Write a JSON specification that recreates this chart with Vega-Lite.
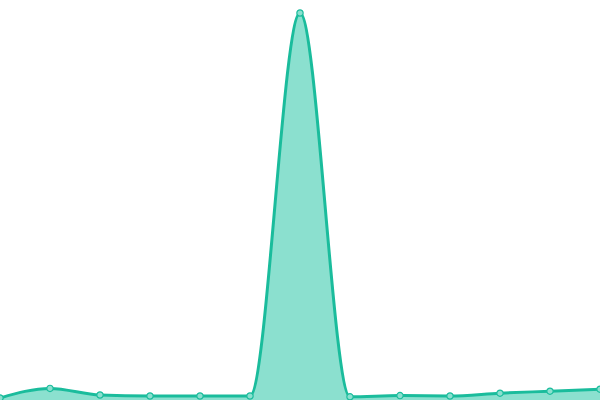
{
  "$schema": "https://vega.github.io/schema/vega-lite/v6.json",
  "width": 600,
  "height": 400,
  "autosize": {"type": "fit", "contains": "padding"},
  "padding": 0,
  "background": "white",
  "data": {
    "values": [
      {"i": 0, "v": 0.5},
      {"i": 1, "v": 2.9},
      {"i": 2, "v": 1.25},
      {"i": 3, "v": 1.0},
      {"i": 4, "v": 1.0},
      {"i": 5, "v": 1.0},
      {"i": 6, "v": 96.75},
      {"i": 7, "v": 0.8},
      {"i": 8, "v": 1.1},
      {"i": 9, "v": 1.0},
      {"i": 10, "v": 1.7},
      {"i": 11, "v": 2.2},
      {"i": 12, "v": 2.7}
    ]
  },
  "encoding": {
    "x": {
      "field": "i",
      "type": "quantitative",
      "axis": null,
      "scale": {"domain": [0, 12], "nice": false, "zero": false}
    },
    "y": {
      "field": "v",
      "type": "quantitative",
      "axis": null,
      "scale": {"domain": [0, 100], "nice": false}
    }
  },
  "layer": [
    {
      "mark": {"type": "area", "interpolate": "monotone", "color": "#8be0cf", "clip": true}
    },
    {
      "mark": {"type": "line", "interpolate": "monotone", "color": "#1abc9c", "strokeWidth": 3, "clip": true}
    },
    {
      "mark": {"type": "point", "filled": true, "fill": "#8be0cf", "stroke": "#1abc9c", "strokeWidth": 1.2, "size": 40, "opacity": 1, "clip": true}
    }
  ],
  "config": {
    "view": {"stroke": null}
  }
}
